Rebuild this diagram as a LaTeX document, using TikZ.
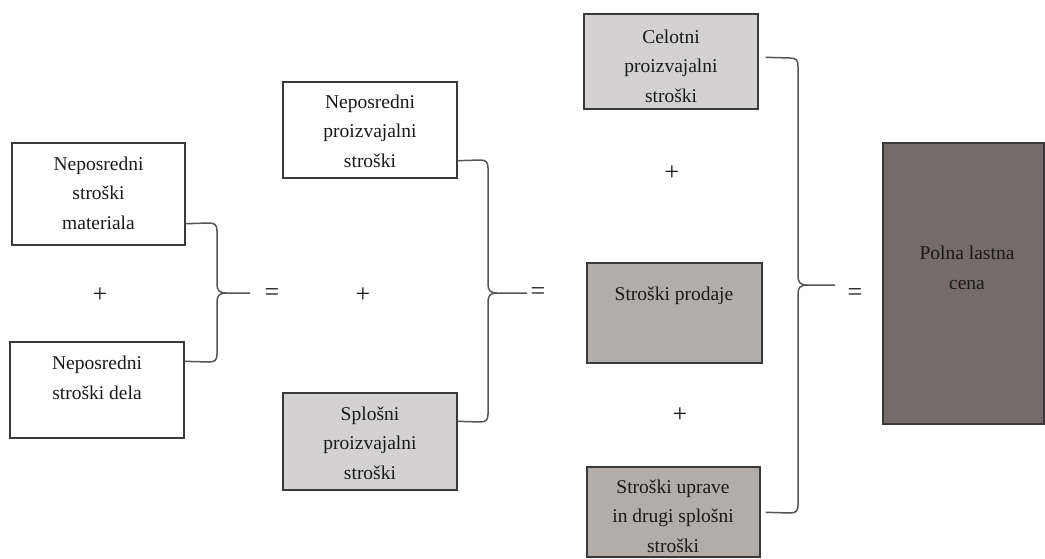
\documentclass[tikz,border=0pt]{standalone}
\usepackage{fontspec}
\setmainfont{Liberation Serif}
\usetikzlibrary{calc}
\definecolor{edge}{HTML}{3A3A3A}
\definecolor{bracec}{HTML}{555555}
\definecolor{txt}{HTML}{1A1A1A}
\definecolor{lightf}{HTML}{D3D1D1}
\definecolor{midf}{HTML}{B1ADAB}
\definecolor{darkf}{HTML}{736C6A}
\tikzset{
  costbox/.style={draw=edge, line width=1.4pt, inner sep=0pt, minimum width=#1},
  costbox/.default=174pt,
  lbl/.style={text=txt, align=center, inner sep=0pt, font=\fontsize{19.5}{29.5}\selectfont},
  sym/.style={text=txt, inner sep=0pt, font=\fontsize{26}{28}\selectfont},
  bracel/.style={draw=bracec, line width=1.5pt, line join=round},
}
\begin{document}
\begin{tikzpicture}[x=1pt,y=-1pt]
\useasboundingbox (0,0) rectangle (1045,558);
% boxes
\node[costbox=173pt, fill=white, minimum height=102pt] (b1) at (98.5,194) {};
\node[costbox=174pt, fill=white, minimum height=96pt] (b2) at (97,390) {};
\node[costbox=174pt, fill=white, minimum height=96pt] (b3) at (370,130) {};
\node[costbox=174pt, fill=lightf, minimum height=97pt] (b4) at (370,441.5) {};
\node[costbox=174pt, fill=lightf, minimum height=95pt] (b5) at (671,61.5) {};
\node[costbox=175pt, fill=midf, minimum height=100pt] (b6) at (674.5,313) {};
\node[costbox=173pt, fill=midf, minimum height=90pt] (b7) at (673.5,512) {};
\node[costbox=161pt, fill=darkf, minimum height=281pt] (b8) at (963.5,283.5) {};

% texts
\node[lbl] (t1) at (98.5,193) {Neposredni\\stroški\\materiala};
\node[lbl] (t2) at (97,378) {Neposredni\\stroški dela};
\node[lbl] (t3) at (370,131) {Neposredni\\proizvajalni\\stroški};
\node[lbl] (t4) at (370,443) {Splošni\\proizvajalni\\stroški};
\node[lbl] (t5) at (671,66) {Celotni\\proizvajalni\\stroški};
\node[lbl] (t6) at (674,296) {Stroški prodaje};
\node[lbl] (t7) at (673,516) {Stroški uprave\\in drugi splošni\\stroški};
\node[lbl] (t8) at (967,268) {Polna lastna\\cena};

% symbols
\node[sym] (p1) at (100,295) {+};
\node[sym] (p2) at (363,295) {+};
\node[sym] (p3) at (672,173) {+};
\node[sym] (p4) at (680,415) {+};
\node[sym] (e1) at (272,295) {=};
\node[sym] (e2) at (538,294) {=};
\node[sym] (e3) at (855,295) {=};

% brace end points on the boxes
\coordinate (b1e) at ($(b1.south east)+(0,-22)$);
\coordinate (b2e) at ($(b2.north east)+(0,20)$);
\coordinate (b3e) at ($(b3.south east)+(0,-18)$);
\coordinate (b4e) at ($(b4.north east)+(0,29)$);
\coordinate (b5e) at ($(b5.north east)+(7,44)$);
\coordinate (b7e) at ($(b7.north east)+(5,46)$);
% brace tips
\coordinate (k1) at (250,293);
\coordinate (k2) at (527,293);
\coordinate (k3) at (835,285);

\draw[bracel] (b1e) -- (209,223) .. controls (215,223) and (217,225) .. (217,231)
  -- (217,284) .. controls (217,290) and (219,293) .. (226,293) -- (k1);
\draw[bracel] (b2e) -- (209,362) .. controls (215,362) and (217,360) .. (217,354)
  -- (217,302) .. controls (217,296) and (219,293) .. (226,293);
\draw[bracel] (b3e) -- (480,160) .. controls (486,160) and (488,162) .. (488,168)
  -- (488,284) .. controls (488,290) and (490,293) .. (497,293) -- (k2);
\draw[bracel] (b4e) -- (480,422) .. controls (486,422) and (488,420) .. (488,414)
  -- (488,302) .. controls (488,296) and (490,293) .. (497,293);
\draw[bracel] (b5e) -- (790,58) .. controls (796,58) and (798,60) .. (798,66)
  -- (798,276) .. controls (798,282) and (800,285) .. (807,285) -- (k3);
\draw[bracel] (b7e) -- (790,513) .. controls (796,513) and (798,511) .. (798,505)
  -- (798,294) .. controls (798,288) and (800,285) .. (807,285);
\end{tikzpicture}
\end{document}
